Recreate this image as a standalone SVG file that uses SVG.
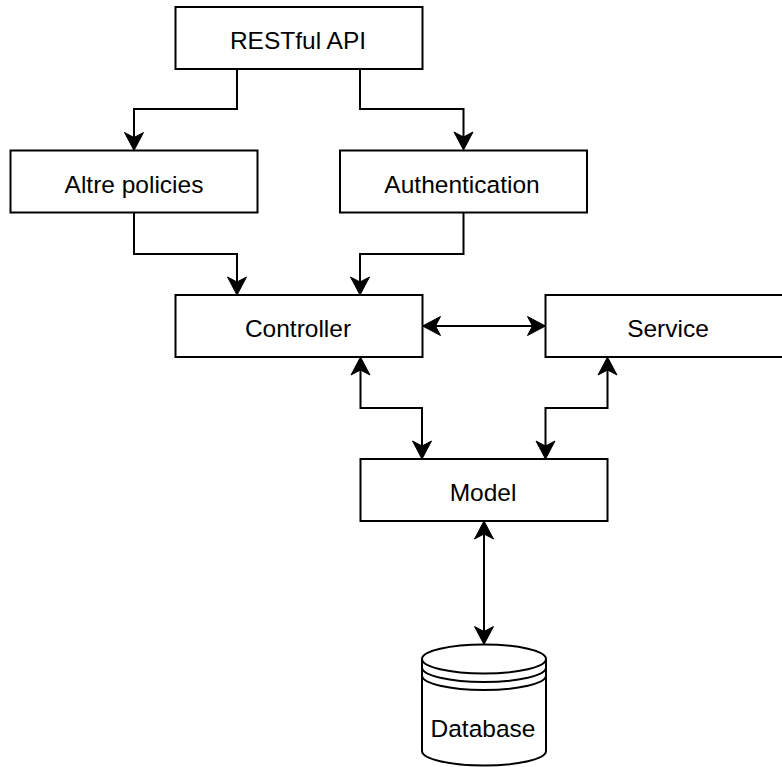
<svg xmlns="http://www.w3.org/2000/svg" width="782" height="767" viewBox="0 0 782 767">
  <style>
    .box { fill: #ffffff; stroke: #000000; stroke-width: 2; }
    .lbl { font-family: "Liberation Sans", Arial, Helvetica, sans-serif; font-size: 24.5px; fill: #000000; text-anchor: middle; }
    .edge { fill: none; stroke: #000000; stroke-width: 2; }
  </style>
  <defs>
    <marker id="arr" viewBox="-20 -11 24 22" refX="-4" refY="0" markerWidth="24" markerHeight="22" orient="auto-start-reverse" markerUnits="userSpaceOnUse">
      <path d="M0,0 L-18,-9.5 L-13,0 L-18,9.5 Z" fill="#000000" stroke="#000000" stroke-width="1" stroke-linejoin="miter"/>
    </marker>
  </defs>
  <rect x="0" y="0" width="782" height="767" fill="#ffffff"/>

  <g id="connectors">
    <path class="edge" d="M237,69 V109 H134 V146.5" marker-end="url(#arr)"/>
    <path class="edge" d="M360,69 V109 H463.5 V146" marker-end="url(#arr)"/>
    <path class="edge" d="M134,212.5 V254 H237 V291" marker-end="url(#arr)"/>
    <path class="edge" d="M463.5,212.5 V254 H360 V291" marker-end="url(#arr)"/>
    <path class="edge" d="M426.5,326 H541.5" marker-start="url(#arr)" marker-end="url(#arr)"/>
    <path class="edge" d="M360.5,361 V408 H422 V455" marker-start="url(#arr)" marker-end="url(#arr)"/>
    <path class="edge" d="M607.5,361 V408 H545.5 V455" marker-start="url(#arr)" marker-end="url(#arr)"/>
    <path class="edge" d="M484,525 V640.5" marker-start="url(#arr)" marker-end="url(#arr)"/>
  </g>

  <g id="node-restful-api">
    <rect class="box" x="175.5" y="7" width="247" height="62"/>
    <text class="lbl" x="298" y="49">RESTful API</text>
  </g>
  <g id="node-altre-policies">
    <rect class="box" x="10.5" y="150.5" width="247" height="62"/>
    <text class="lbl" x="134" y="193">Altre policies</text>
  </g>
  <g id="node-authentication">
    <rect class="box" x="340" y="150.5" width="247" height="62"/>
    <text class="lbl" x="462" y="193">Authentication</text>
  </g>
  <g id="node-controller">
    <rect class="box" x="175.5" y="295" width="247" height="62"/>
    <text class="lbl" x="298" y="337">Controller</text>
  </g>
  <g id="node-service">
    <rect class="box" x="545.5" y="295" width="247" height="62"/>
    <text class="lbl" x="668" y="337">Service</text>
  </g>
  <g id="node-model">
    <rect class="box" x="360.5" y="459" width="247" height="62"/>
    <text class="lbl" x="483" y="501">Model</text>
  </g>
  <g id="node-database">
    <path class="box" d="M422,659 A62,14.5 0 0 1 546,659 L546,751 A62,14.5 0 0 1 422,751 Z"/>
    <path class="edge" d="M422,659 A62,14.5 0 0 0 546,659"/>
    <path class="edge" d="M422,667.5 A62,14.5 0 0 0 546,667.5"/>
    <path class="edge" d="M422,675.5 A62,14.5 0 0 0 546,675.5"/>
    <text class="lbl" x="483" y="737">Database</text>
  </g>
</svg>
